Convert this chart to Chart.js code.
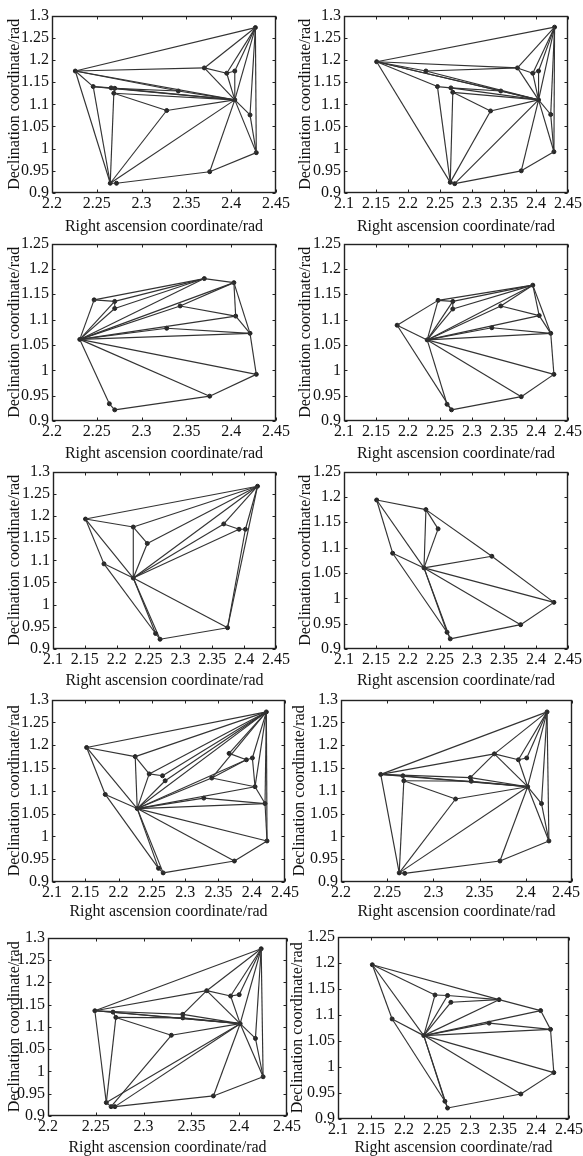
<!DOCTYPE html>
<html><head><meta charset="utf-8">
<script src="https://cdn.jsdelivr.net/npm/chart.js@4.4.0/dist/chart.umd.min.js"></script>
<style>
html,body{margin:0;padding:0;background:#fff;overflow:hidden;width:583px;height:1156px;position:relative}
canvas{position:absolute}
</style></head><body>
<script>
const xTicksWide = [2.1,2.15,2.2,2.25,2.3,2.35,2.4,2.45];
const xTicksNarrow = [2.2,2.25,2.3,2.35,2.4,2.45];
const yTicksTall = [0.9,0.95,1,1.05,1.1,1.15,1.2,1.25,1.3];
const yTicksShort = [0.9,0.95,1,1.05,1.1,1.15,1.2,1.25];
const xTitle = 'Right ascension coordinate/rad';
const yTitle = 'Declination coordinate/rad';

const p1Stars = [['P',2.226,1.175],['B',2.246,1.140],['C1',2.266,1.137],['C2',2.270,1.136],['C3',2.269,1.125],['D1',2.265,0.922],['D2',2.272,0.922],['E',2.328,1.086],['S',2.341,1.130],['F',2.370,1.182],['G1',2.395,1.170],['G2',2.404,1.175],['H',2.404,1.110],['I',2.421,1.076],['J',2.427,1.273],['K',2.428,0.991],['L',2.376,0.948]];
const p1Edges = [['P','J'],['P','F'],['P','H'],['P','S'],['P','B'],['P','D1'],['B','C1'],['B','D1'],['B','H'],['C1','C2'],['C2','S'],['C1','H'],['C3','H'],['C3','D1'],['C2','C3'],['C3','E'],['E','H'],['D1','E'],['D1','H'],['D2','L'],['D1','D2'],['L','H'],['L','K'],['K','H'],['K','J'],['I','H'],['I','K'],['I','J'],['J','H'],['J','G2'],['J','G1'],['J','F'],['F','G1'],['G1','G2'],['F','H'],['G1','H'],['G2','H'],['S','H']];

const p2Stars = [['M',2.151,1.196],['P',2.228,1.175],['B',2.246,1.140],['C1',2.267,1.137],['C2',2.270,1.127],['D1',2.266,0.924],['D2',2.273,0.921],['E',2.329,1.085],['S',2.345,1.130],['F',2.371,1.182],['G1',2.395,1.170],['G2',2.404,1.175],['H',2.404,1.110],['I',2.423,1.077],['J',2.429,1.274],['K',2.428,0.993],['L',2.377,0.950]];
const p2Edges = [['M','J'],['M','P'],['P','F'],['M','F'],['M','H'],['M','S'],['P','H'],['M','B'],['M','D1'],['B','C1'],['B','D1'],['C1','C2'],['C2','D1'],['C1','H'],['C1','S'],['C2','E'],['C2','H'],['E','H'],['D1','E'],['D2','H'],['D1','D2'],['D2','L'],['L','H'],['L','K'],['K','H'],['K','J'],['J','H'],['J','F'],['J','G2'],['J','G1'],['F','G1'],['G1','G2'],['F','H'],['G1','H'],['G2','H'],['I','H'],['I','K'],['I','J'],['S','H']];

const p3Stars = [['O',2.231,1.061],['B',2.247,1.139],['C1',2.270,1.136],['C2',2.270,1.122],['D1',2.264,0.934],['D2',2.270,0.922],['E',2.328,1.083],['S',2.343,1.127],['F',2.370,1.181],['G',2.403,1.173],['H',2.405,1.107],['I',2.421,1.073],['K',2.428,0.992],['L',2.376,0.949]];
const p3Edges = [['O','B'],['O','C1'],['O','C2'],['O','F'],['O','G'],['O','S'],['O','H'],['O','E'],['O','I'],['O','K'],['O','L'],['O','D1'],['B','C1'],['B','F'],['C1','F'],['C2','F'],['C1','C2'],['F','G'],['S','G'],['S','H'],['G','H'],['G','I'],['H','I'],['E','I'],['I','K'],['K','L'],['L','D2'],['D1','D2']];

const p4Stars = [['N',2.183,1.089],['O',2.230,1.060],['B',2.247,1.138],['C1',2.270,1.136],['C2',2.270,1.121],['D1',2.261,0.933],['D2',2.268,0.922],['E',2.331,1.084],['S',2.345,1.127],['G',2.395,1.168],['H',2.405,1.108],['I',2.423,1.073],['K',2.428,0.992],['L',2.377,0.948]];
const p4Edges = [['N','B'],['N','O'],['N','D2'],['O','B'],['O','C1'],['O','C2'],['O','G'],['O','S'],['O','H'],['O','E'],['O','I'],['O','K'],['O','L'],['O','D1'],['B','C1'],['B','G'],['C1','G'],['C2','G'],['C1','C2'],['S','G'],['G','H'],['G','I'],['S','H'],['H','I'],['E','I'],['I','K'],['K','L'],['L','D2'],['D1','D2']];

const p5Stars = [['M',2.151,1.193],['P',2.226,1.175],['N',2.180,1.092],['O',2.226,1.060],['S6',2.248,1.138],['D1',2.261,0.935],['D2',2.268,0.922],['L',2.374,0.948],['F',2.368,1.182],['G1',2.392,1.170],['G2',2.402,1.170],['J',2.421,1.267]];
const p5Edges = [['M','J'],['M','P'],['M','N'],['M','O'],['N','O'],['N','D1'],['O','D1'],['O','D2'],['P','O'],['P','J'],['P','S6'],['S6','O'],['S6','J'],['O','J'],['O','F'],['O','G1'],['O','L'],['D1','D2'],['D2','L'],['L','J'],['L','G2'],['F','G1'],['G1','G2'],['F','J'],['G2','J']];

const p6Stars = [['M',2.151,1.194],['P',2.228,1.175],['S6',2.247,1.137],['N',2.176,1.089],['O',2.225,1.060],['E',2.331,1.083],['K',2.428,0.992],['L',2.376,0.948],['D1',2.261,0.933],['D2',2.266,0.920]];
const p6Edges = [['M','P'],['M','N'],['M','O'],['N','O'],['N','D1'],['O','D1'],['O','D2'],['P','O'],['P','S6'],['P','E'],['S6','O'],['O','E'],['O','K'],['O','L'],['E','K'],['K','L'],['L','D2'],['D1','D2']];

const p7Stars = [['M',2.152,1.195],['P',2.225,1.175],['N',2.180,1.092],['O',2.228,1.061],['S6',2.246,1.137],['C1',2.266,1.133],['C2',2.270,1.122],['S',2.340,1.128],['E',2.328,1.084],['F',2.366,1.182],['G1',2.392,1.168],['G2',2.401,1.172],['H',2.405,1.109],['I',2.420,1.072],['J',2.422,1.273],['K',2.423,0.990],['L',2.374,0.946],['D1',2.260,0.930],['D2',2.267,0.920]];
const p7Edges = [['M','J'],['M','P'],['M','N'],['M','O'],['N','O'],['N','D1'],['O','D1'],['O','D2'],['P','O'],['P','J'],['P','S6'],['S6','O'],['S6','C1'],['S6','J'],['C1','J'],['C2','J'],['O','J'],['O','C2'],['O','S'],['O','G1'],['O','E'],['O','H'],['O','I'],['O','K'],['O','L'],['D2','L'],['D1','D2'],['L','K'],['K','J'],['K','I'],['I','J'],['I','H'],['H','J'],['H','G2'],['G1','F'],['F','J'],['G2','J'],['G1','G2'],['S','H'],['S','G1'],['E','I'],['S','J']];

const p8Stars = [['B',2.243,1.136],['C1',2.267,1.133],['C2',2.268,1.122],['D1',2.263,0.920],['D2',2.269,0.919],['E',2.324,1.082],['Sa',2.340,1.129],['Sb',2.341,1.121],['F',2.366,1.181],['G1',2.392,1.168],['G2',2.401,1.172],['H',2.402,1.109],['I',2.417,1.072],['J',2.423,1.273],['K',2.425,0.990],['L',2.372,0.946]];
const p8Edges = [['B','J'],['B','F'],['B','C1'],['B','H'],['B','Sa'],['B','D1'],['C1','C2'],['C2','D1'],['C1','H'],['C2','Sb'],['C2','E'],['E','H'],['D1','E'],['D1','H'],['D1','D2'],['D2','L'],['L','H'],['L','K'],['K','H'],['K','J'],['J','H'],['J','F'],['J','G2'],['J','G1'],['F','G1'],['G1','G2'],['F','H'],['G1','H'],['F','Sa'],['Sa','H'],['Sb','H'],['Sa','Sb'],['I','H'],['I','K'],['I','J']];

const p9Stars = [['B',2.249,1.136],['C1',2.268,1.133],['C2',2.271,1.121],['D1',2.261,0.930],['D2',2.266,0.921],['D3',2.270,0.921],['E',2.329,1.081],['Sa',2.341,1.128],['Sb',2.341,1.120],['F',2.366,1.181],['G1',2.391,1.169],['G2',2.400,1.172],['H',2.401,1.107],['I',2.417,1.074],['J',2.423,1.275],['K',2.425,0.988],['L',2.373,0.945]];
const p9Edges = [['B','J'],['B','F'],['B','C1'],['B','H'],['B','Sa'],['B','D1'],['C1','C2'],['C2','D1'],['C1','H'],['C2','Sb'],['C2','E'],['E','H'],['D2','E'],['D1','H'],['D3','H'],['D1','D2'],['D2','D3'],['D3','L'],['L','H'],['L','K'],['K','H'],['K','J'],['J','H'],['J','F'],['J','G2'],['J','G1'],['F','G1'],['G1','G2'],['F','H'],['G1','H'],['F','Sa'],['Sa','H'],['Sb','H'],['Sa','Sb'],['I','H'],['I','K'],['I','J']];

const p10Stars = [['M',2.152,1.196],['N',2.182,1.092],['O',2.230,1.060],['B',2.247,1.138],['C1',2.266,1.137],['C2',2.271,1.124],['S',2.344,1.129],['E',2.329,1.084],['H',2.407,1.108],['I',2.422,1.072],['K',2.427,0.989],['L',2.377,0.948],['D1',2.262,0.934],['D2',2.266,0.921]];
const p10Edges = [['M','S'],['S','H'],['M','B'],['M','O'],['M','N'],['N','O'],['N','D1'],['O','D1'],['O','D2'],['O','B'],['O','C1'],['O','C2'],['O','S'],['O','H'],['O','E'],['O','I'],['O','K'],['O','L'],['B','C1'],['C1','S'],['C2','S'],['E','I'],['H','I'],['I','K'],['K','L'],['L','D2'],['D1','D2']];

const panels = [
  {stars:p1Stars, edges:p1Edges, xt:xTicksNarrow, yt:yTicksTall},
  {stars:p2Stars, edges:p2Edges, xt:xTicksWide, yt:yTicksTall},
  {stars:p3Stars, edges:p3Edges, xt:xTicksNarrow, yt:yTicksShort},
  {stars:p4Stars, edges:p4Edges, xt:xTicksWide, yt:yTicksShort},
  {stars:p5Stars, edges:p5Edges, xt:xTicksWide, yt:yTicksTall},
  {stars:p6Stars, edges:p6Edges, xt:xTicksWide, yt:yTicksShort},
  {stars:p7Stars, edges:p7Edges, xt:xTicksWide, yt:yTicksTall},
  {stars:p8Stars, edges:p8Edges, xt:xTicksNarrow, yt:yTicksTall},
  {stars:p9Stars, edges:p9Edges, xt:xTicksNarrow, yt:yTicksTall},
  {stars:p10Stars, edges:p10Edges, xt:xTicksWide, yt:yTicksShort}
];

// plot-box placement (pixels) for each panel; pr = right canvas margin, shift = last x label nudge (spaces)
const frames = [
  {L:52,T:15,R:276,B:193,tx:15,ty:226,pr:18,shift:0},
  {L:344,T:15,R:568,B:193,tx:306,ty:226,pr:15,shift:0},
  {L:52,T:243,R:276,B:421,tx:15,ty:453,pr:18,shift:0},
  {L:344,T:243,R:568,B:421,tx:306,ty:453,pr:15,shift:0},
  {L:53,T:471,R:276,B:649,tx:15,ty:680,pr:18,shift:0},
  {L:344,T:471,R:568,B:649,tx:306,ty:680,pr:15,shift:0},
  {L:52,T:699,R:285,B:882,tx:15,ty:911,pr:18,shift:0},
  {L:341,T:699,R:572,B:882,tx:300,ty:911,pr:11,shift:3},
  {L:48,T:937,R:287,B:1116,tx:15,ty:1147,pr:18,shift:0},
  {L:338,T:936,R:569,B:1119,tx:298,ty:1147,pr:14,shift:0}
];

const FONT = 'Liberation Serif, Times New Roman, serif';
const TXT = '#111';

const framePlugin = {
  id:'frame',
  afterDraw(chart){
    const {ctx, chartArea:a, scales:{x, y}} = chart;
    ctx.save();
    ctx.strokeStyle = '#222';
    ctx.lineWidth = 1.4;
    const l = Math.round(a.left)+0.5, r = Math.round(a.right)-0.5, t = Math.round(a.top)+0.5, b = Math.round(a.bottom)-0.5;
    ctx.strokeRect(l, t, r-l, b-t);
    const tl = 3;
    ctx.lineWidth = 1;
    ctx.beginPath();
    x.ticks.forEach(tk=>{
      const px = Math.round(x.getPixelForValue(tk.value))+0.5;
      ctx.moveTo(px,b); ctx.lineTo(px,b-tl);
      ctx.moveTo(px,t); ctx.lineTo(px,t+tl);
    });
    y.ticks.forEach(tk=>{
      const py = Math.round(y.getPixelForValue(tk.value))+0.5;
      ctx.moveTo(l,py); ctx.lineTo(l+tl,py);
      ctx.moveTo(r,py); ctx.lineTo(r-tl,py);
    });
    ctx.stroke();
    ctx.restore();
  }
};

const fmt = v => String(+(+v).toFixed(2));

panels.forEach((p,i)=>{
  const f = frames[i];
  const cl = Math.round(f.tx - 11.6);
  const ct = f.T - 12;
  const cr = f.R + f.pr;
  const cb = Math.round(f.ty + 11.6);
  const cv = document.createElement('canvas');
  cv.width = cr - cl; cv.height = cb - ct;
  cv.style.left = cl + 'px'; cv.style.top = ct + 'px';
  cv.style.width = (cr-cl) + 'px'; cv.style.height = (cb-ct) + 'px';
  document.body.appendChild(cv);
  const map = {};
  p.stars.forEach(s=>{ map[s[0]] = {x:s[1], y:s[2]}; });
  const datasets = p.edges.map(e=>({
    data:[map[e[0]], map[e[1]]], showLine:true, borderColor:'#333', borderWidth:1.15,
    pointRadius:0, fill:false
  }));
  datasets.push({
    data:p.stars.map(s=>({x:s[1], y:s[2]})), showLine:false,
    pointRadius:2, pointBackgroundColor:'#222', pointBorderColor:'#222', pointBorderWidth:1
  });
  const yw = f.L - cl;
  const xh = cb - f.B;
  const last = p.xt[p.xt.length-1];
  new Chart(cv, {
    type:'scatter',
    data:{datasets},
    options:{
      responsive:false, devicePixelRatio:1, animation:false, events:[],
      layout:{padding:{left:0, top:12, right:f.pr, bottom:0}},
      plugins:{legend:{display:false}, tooltip:{enabled:false}},
      scales:{
        x:{
          type:'linear', min:p.xt[0], max:last,
          afterBuildTicks:s=>{ s.ticks = p.xt.map(v=>({value:v})); },
          afterFit:s=>{ s.height = xh; s.paddingRight = Math.min(s.paddingRight, f.pr); },
          grid:{display:false, drawTicks:false, tickLength:0},
          border:{display:false},
          ticks:{autoSkip:false, maxRotation:0, minRotation:0, padding:1, color:TXT,
                 font:{family:FONT, size:16},
                 callback:v=>{ const t = fmt(v); return (Math.abs(v-last)<1e-9 && f.shift) ? t + ' '.repeat(f.shift) : t; }},
          title:{display:true, text:xTitle, color:TXT, font:{family:FONT, size:16}, padding:{top:0, bottom:2}}
        },
        y:{
          type:'linear', min:p.yt[0], max:p.yt[p.yt.length-1],
          afterBuildTicks:s=>{ s.ticks = p.yt.map(v=>({value:v})); },
          afterFit:s=>{ s.width = yw; },
          grid:{display:false, drawTicks:false, tickLength:0},
          border:{display:false},
          ticks:{autoSkip:false, padding:3, color:TXT,
                 font:{family:FONT, size:16}, callback:fmt},
          title:{display:true, text:yTitle, color:TXT, font:{family:FONT, size:16}, padding:{top:2, bottom:0}}
        }
      }
    },
    plugins:[framePlugin]
  });
});
</script>
</body></html>
